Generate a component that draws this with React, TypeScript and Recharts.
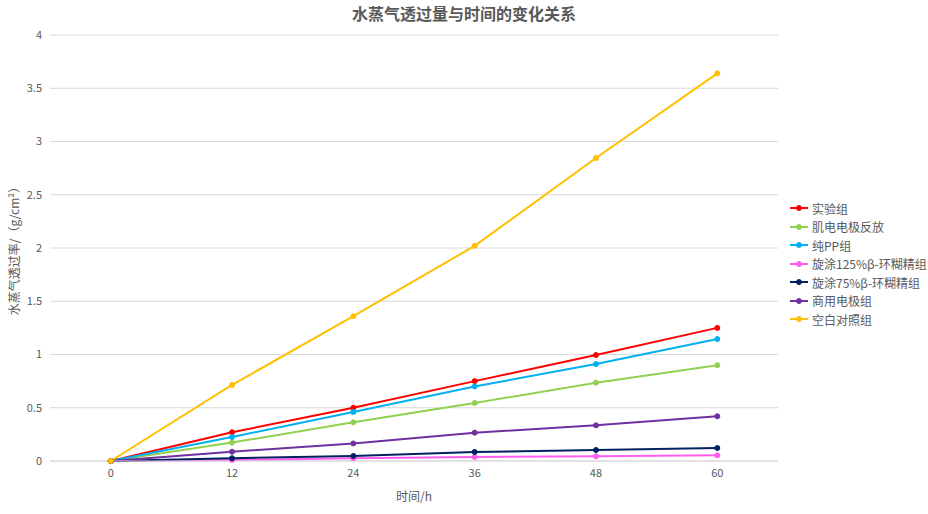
import React from 'react';
import { LineChart, Line, XAxis, YAxis, CartesianGrid, Legend } from 'recharts';

const hours = ['0', '12', '24', '36', '48', '60'];
const yTicks = [0, 0.5, 1, 1.5, 2, 2.5, 3, 3.5, 4];

const experiment = [0, 0.27, 0.5, 0.75, 0.995, 1.25];
const reversed = [0, 0.173, 0.363, 0.545, 0.735, 0.9];
const purePP = [0, 0.225, 0.46, 0.7, 0.91, 1.145];
const coat125 = [0, 0.01, 0.025, 0.037, 0.044, 0.053];
const coat75 = [0, 0.026, 0.047, 0.085, 0.103, 0.122];
const commercial = [0, 0.087, 0.165, 0.266, 0.335, 0.42];
const blank = [0, 0.714, 1.36, 2.02, 2.845, 3.64];

const SERIES = [
  { key: 'a', name: '实验组', color: '#FF0000', values: experiment },
  { key: 'b', name: '肌电电极反放', color: '#92D050', values: reversed },
  { key: 'c', name: '纯PP组', color: '#00B0F0', values: purePP },
  { key: 'd', name: '旋涂125%β-环糊精组', color: '#FF5CF0', values: coat125 },
  { key: 'e', name: '旋涂75%β-环糊精组', color: '#002060', values: coat75 },
  { key: 'f', name: '商用电极组', color: '#7030A0', values: commercial },
  { key: 'g', name: '空白对照组', color: '#FFC000', values: blank },
];

const data = hours.map((h, i) => {
  const row: Record<string, string | number> = { h };
  SERIES.forEach((s) => {
    row[s.key] = s.values[i];
  });
  return row;
});

const FONT = '"Noto Sans CJK SC", "Noto Sans", sans-serif';
const GREY = '#595959';

function LegendList() {
  return (
    <div style={{ fontFamily: FONT, fontSize: 12, color: GREY }}>
      {SERIES.map((s) => (
        <div key={s.key} style={{ display: 'flex', alignItems: 'center', height: 18.5 }}>
          <svg width={20} height={10} style={{ marginRight: 2 }}>
            <line x1={0} y1={5} x2={18} y2={5} stroke={s.color} strokeWidth={2} />
            <circle cx={9} cy={5} r={2.5} fill={s.color} stroke={s.color} />
          </svg>
          <span style={{ whiteSpace: 'nowrap' }}>{s.name}</span>
        </div>
      ))}
    </div>
  );
}

export default function App() {
  return (
    <div style={{ position: 'absolute', left: 0, top: 0, width: 928, height: 514, background: '#fff' }}>
      <div
        style={{
          position: 'absolute',
          top: 1,
          left: 0,
          width: 928,
          textAlign: 'center',
          fontFamily: FONT,
          fontSize: 16,
          fontWeight: 'bold',
          color: GREY,
        }}
      >
        水蒸气透过量与时间的变化关系
      </div>
      <LineChart width={928} height={514} data={data} margin={{ top: 35, right: 150, bottom: 0, left: 0 }}>
        <CartesianGrid vertical={false} stroke="#D9D9D9" />
        <XAxis
          dataKey="h"
          height={53}
          padding={{ left: 60.7, right: 60.7 }}
          axisLine={{ stroke: '#D9D9D9' }}
          tickLine={false}
          tick={{ fill: GREY, fontSize: 11, fontFamily: FONT }}
          label={{
            value: '时间/h',
            position: 'insideBottom',
            offset: 13,
            style: { fill: GREY, fontSize: 12, fontFamily: FONT },
          }}
        />
        <YAxis
          width={50}
          domain={[0, 4]}
          ticks={yTicks}
          axisLine={false}
          tickLine={false}
          tick={{ fill: GREY, fontSize: 11, fontFamily: FONT }}
          label={{
            value: '水蒸气透过率/（g/cm²）',
            angle: -90,
            position: 'insideLeft',
            offset: 15,
            style: { fill: GREY, fontSize: 12, fontFamily: FONT, textAnchor: 'middle' },
          }}
        />
        <Legend
          layout="vertical"
          align="center"
          verticalAlign="middle"
          wrapperStyle={{ left: 790, top: 199, width: 138 }}
          content={() => <LegendList />}
        />
        {SERIES.map((s) => (
          <Line
            key={s.key}
            dataKey={s.key}
            name={s.name}
            type="linear"
            stroke={s.color}
            strokeWidth={2}
            dot={{ r: 2.5, fill: s.color, stroke: s.color, strokeWidth: 1 }}
            activeDot={false}
            isAnimationActive={false}
          />
        ))}
      </LineChart>
    </div>
  );
}
